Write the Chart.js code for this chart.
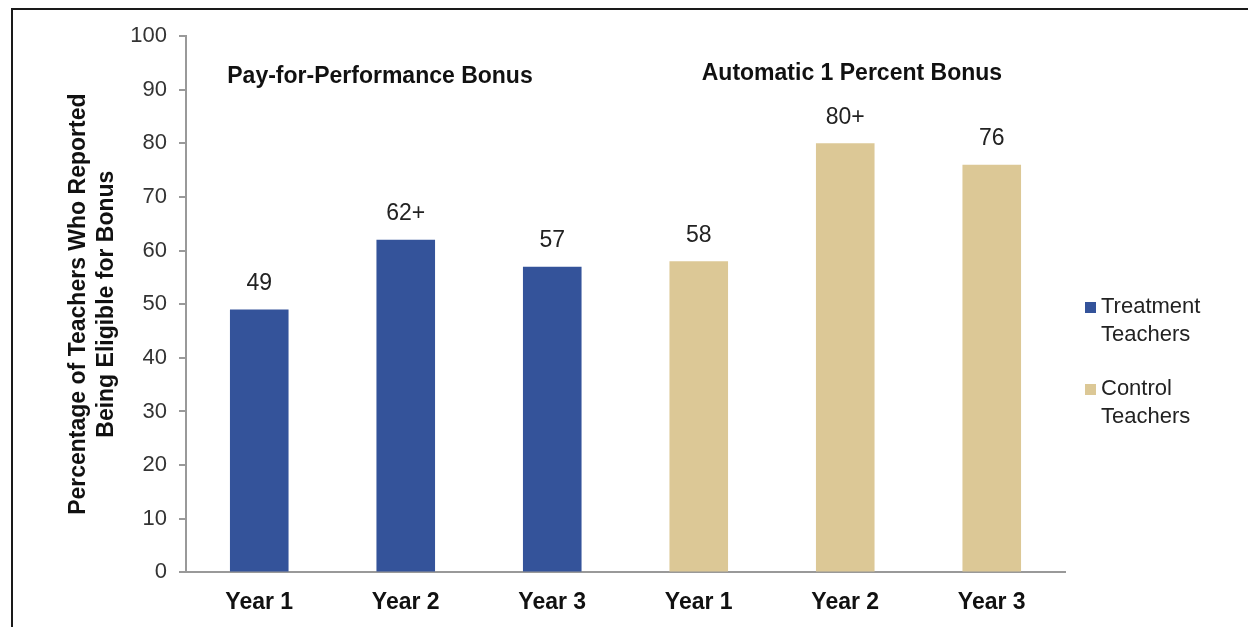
<!DOCTYPE html>
<html>
<head>
<meta charset="utf-8">
<script src="https://cdn.jsdelivr.net/npm/chart.js@4.4.0/dist/chart.umd.min.js"></script>
<style>
  html, body { margin: 0; padding: 0; background: #fff; }
  #wrap { position: relative; width: 1248px; height: 627px; overflow: hidden; }
  #frame { position: absolute; left: 11px; top: 8px; width: 1300px; height: 700px;
           border-left: 2px solid #1a1a1a; border-top: 2px solid #1a1a1a; }
  canvas { position: absolute; left: 0; top: 0; }
</style>
</head>
<body>
<div id="wrap">
  <div id="frame"></div>
  <canvas id="myChart" width="1248" height="627"></canvas>
</div>
<script>
var categories = ["Year 1", "Year 2", "Year 3", "Year 1", "Year 2", "Year 3"];
var treatmentValues = [49, 62, 57, null, null, null];
var controlValues = [null, null, null, 58, 80, 76];
var valueLabels = ["49", "62+", "57", "58", "80+", "76"];
var groupTitles = ["Pay-for-Performance Bonus", "Automatic 1 Percent Bonus"];
var groupStart = [0, 3];
var yTicks = [0, 10, 20, 30, 40, 50, 60, 70, 80, 90, 100];
var seriesNames = [["Treatment", "Teachers"], ["Control", "Teachers"]];
var barColors = ["#34539a", "#dcc896"];

var FONT = "'Liberation Sans', Arial, sans-serif";

// value labels over the bars, group headings and the two-line legend
var extras = {
  id: "extras",
  afterDatasetsDraw: function(chart) {
    var ctx = chart.ctx;
    var x = chart.scales.x, y = chart.scales.y;
    ctx.save();
    ctx.fillStyle = "#222";
    ctx.font = "23px " + FONT;
    ctx.textAlign = "center";
    ctx.textBaseline = "middle";
    chart.data.datasets.forEach(function(ds, di) {
      chart.getDatasetMeta(di).data.forEach(function(bar, i) {
        if (ds.data[i] == null) return;
        ctx.fillText(valueLabels[i], bar.x, bar.y - 26);
      });
    });

    ctx.fillStyle = "#111";
    ctx.font = "bold 23px " + FONT;
    ctx.textAlign = "left";
    var shift = [-32, 3];
    groupTitles.forEach(function(t, i) {
      ctx.fillText(t, x.getPixelForValue(groupStart[i]) + shift[i], y.getPixelForValue(92.5) - (i === 1 ? 3 : 0));
    });

    ctx.font = "22px " + FONT;
    var top = [307, 389];
    seriesNames.forEach(function(lines, i) {
      ctx.fillStyle = barColors[i];
      ctx.fillRect(1085, top[i] - 5, 11, 11);
      ctx.fillStyle = "#222";
      lines.forEach(function(l, j) {
        ctx.fillText(l, 1101, top[i] + j * 28);
      });
    });
    ctx.restore();
  }
};

new Chart("myChart", {
  type: "bar",
  data: {
    labels: categories,
    datasets: [
      { label: "Treatment Teachers", data: treatmentValues, backgroundColor: barColors[0] },
      { label: "Control Teachers", data: controlValues, backgroundColor: barColors[1] }
    ]
  },
  options: {
    responsive: false,
    animation: false,
    categoryPercentage: 0.8,
    barPercentage: 0.5,
    layout: { padding: { left: 0, right: 183, top: 36, bottom: 3 } },
    plugins: {
      legend: { display: false },
      tooltip: { enabled: false }
    },
    scales: {
      x: {
        stacked: true,
        grid: { display: false },
        border: { color: "#999", width: 2 },
        ticks: { color: "#111", font: { family: FONT, size: 23, weight: "bold" }, padding: 8 }
      },
      y: {
        min: 0,
        max: 100,
        afterBuildTicks: function(scale) {
          scale.ticks = yTicks.map(function(v) { return { value: v }; });
        },
        afterFit: function(scale) { scale.width = 186; },
        grid: { drawOnChartArea: false, drawTicks: true, tickLength: 7, color: "#999", lineWidth: 2 },
        border: { color: "#999", width: 2 },
        ticks: { color: "#333", font: { family: FONT, size: 22 }, padding: 12 },
        title: {
          display: true,
          text: ["Percentage of Teachers Who Reported", "Being Eligible for Bonus"],
          color: "#111",
          font: { family: FONT, size: 23, weight: "bold", lineHeight: 1.2 },
          padding: { top: 65, bottom: 0 }
        }
      }
    }
  },
  plugins: [extras]
});
</script>
</body>
</html>
